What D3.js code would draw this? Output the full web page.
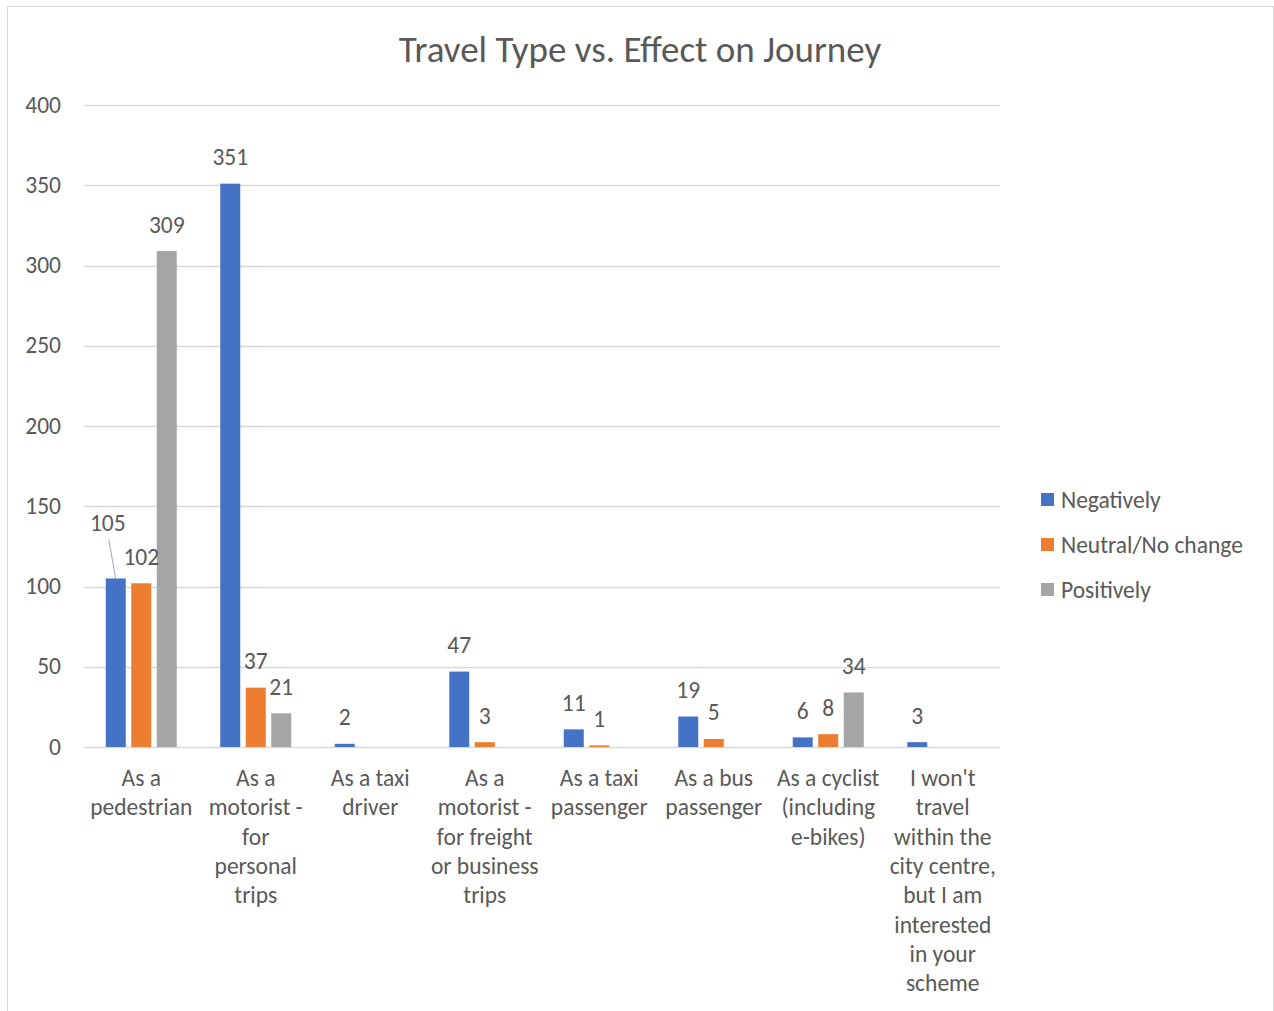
<!DOCTYPE html>
<html>
<head>
<meta charset="utf-8">
<script src="https://cdn.jsdelivr.net/npm/d3@7"></script>
<style>
  body { margin: 0; background: #fff; }
  svg text { font-family: Calibri, Carlito, "Open Sans", sans-serif; fill: #595959; }
</style>
</head>
<body>
<div id="chart"></div>
<script>
// Travel type vs effect on journey - clustered column chart

var categories = [
  ["As a", "pedestrian"],
  ["As a", "motorist -", "for", "personal", "trips"],
  ["As a taxi", "driver"],
  ["As a", "motorist -", "for freight", "or business", "trips"],
  ["As a taxi", "passenger"],
  ["As a bus", "passenger"],
  ["As a cyclist", "(including", "e-bikes)"],
  ["I won't", "travel", "within the", "city centre,", "but I am", "interested", "in your", "scheme"]
];
var seriesNames = ["Negatively", "Neutral/No change", "Positively"];
var negatively = [105, 351, 2, 47, 11, 19, 6, 3];
var neutral = [102, 37, 0, 3, 1, 5, 8, 0];
var positively = [309, 21, 0, 0, 0, 0, 34, 0];
var yTicks = [0, 50, 100, 150, 200, 250, 300, 350, 400];
var colors = ["#4472C4", "#ED7D31", "#A5A5A5"];

var width = 1274, height = 1011;
var plot = {left: 84, right: 1000, top: 105, bottom: 747};
var fs = 23.5;

var svg = d3.select("#chart").append("svg")
  .attr("width", width)
  .attr("height", height);

// chart area border
svg.append("rect")
  .attr("x", 7.5).attr("y", 6.5)
  .attr("width", 1266).attr("height", 1020)
  .attr("fill", "#fff")
  .attr("stroke", "#d9d9d9");

svg.append("text")
  .attr("x", 640).attr("y", 62)
  .attr("text-anchor", "middle")
  .attr("font-size", 37)
  .text("Travel Type vs. Effect on Journey");

var y = d3.scaleLinear().domain([0, 400]).range([plot.bottom, plot.top]);
var x0 = d3.scaleBand().domain(d3.range(categories.length)).range([plot.left, plot.right]);
var x1 = d3.scaleBand().domain(d3.range(seriesNames.length))
  .range([0, x0.bandwidth()])
  .paddingInner(0.216).paddingOuter(0.853);

// gridlines
svg.append("g").selectAll("line")
  .data(yTicks)
  .enter().append("line")
    .attr("x1", plot.left).attr("x2", plot.right)
    .attr("y1", function(d) { return Math.round(y(d)) + 0.5; })
    .attr("y2", function(d) { return Math.round(y(d)) + 0.5; })
    .attr("stroke", "#d9d9d9")
    .attr("stroke-width", 1.3);

svg.append("g").selectAll("text")
  .data(yTicks)
  .enter().append("text")
    .attr("x", 61)
    .attr("y", function(d) { return y(d) + 7.5; })
    .attr("text-anchor", "end")
    .attr("font-size", fs)
    .text(function(d) { return d; });

var rows = [];
categories.forEach(function(c, i) {
  [negatively, neutral, positively].forEach(function(arr, s) {
    rows.push({cat: i, s: s, v: arr[i]});
  });
});

svg.append("g").selectAll("rect")
  .data(rows.filter(function(d) { return d.v > 0; }))
  .enter().append("rect")
    .attr("x", function(d) { return x0(d.cat) + x1(d.s); })
    .attr("y", function(d) { return y(d.v); })
    .attr("width", x1.bandwidth())
    .attr("height", function(d) { return y(0) - y(d.v); })
    .attr("fill", function(d) { return colors[d.s]; });

// data labels
var lab = svg.append("g");
var labels = lab.selectAll("text")
  .data(rows.filter(function(d) { return d.v > 0; }))
  .enter().append("text")
    .attr("font-size", fs)
    .attr("text-anchor", "middle")
    .attr("x", function(d) { return x0(d.cat) + x1(d.s) + x1.bandwidth() / 2; })
    .attr("y", function(d) { return y(d.v) - 18.5; })
    .text(function(d) { return d.v; });

// move a label up when it collides with its neighbour
labels.each(function(d) {
  var me = this;
  var w = me.getComputedTextLength();
  labels.each(function(o) {
    if (o.cat === d.cat && o.s === d.s + 1) {
      var w2 = this.getComputedTextLength();
      var dx = x1.step();
      var dy = Math.abs(y(d.v) - y(o.v));
      if (dx < (w + w2) / 2 && dy < 20) {
        var cx = x0(d.cat) + x1(d.s) + x1.bandwidth() / 2;
        d3.select(me).attr("x", cx - 8).attr("y", y(d.v) - 47);
        lab.append("line")
          .attr("x1", cx - 7).attr("y1", y(d.v) - 39)
          .attr("x2", cx).attr("y2", y(d.v))
          .attr("stroke", "#a6a6a6");
      }
    }
  });
});

// category labels
var cat = svg.append("g").selectAll("text")
  .data(categories)
  .enter().append("text")
    .attr("text-anchor", "middle")
    .attr("font-size", fs)
    .attr("x", function(d, i) { return x0(i) + x0.bandwidth() / 2; })
    .attr("y", 786);
cat.selectAll("tspan")
  .data(function(d) { return d; })
  .enter().append("tspan")
    .attr("x", function() { return d3.select(this.parentNode).attr("x"); })
    .attr("dy", function(d, i) { return i === 0 ? 0 : 29.3; })
    .text(function(d) { return d; });

// legend
var leg = svg.append("g").selectAll("g")
  .data(seriesNames)
  .enter().append("g")
    .attr("transform", function(d, i) { return "translate(1041," + (493 + i * 45) + ")"; });
leg.append("rect")
  .attr("width", 13).attr("height", 13)
  .attr("fill", function(d, i) { return colors[i]; });
leg.append("text")
  .attr("x", 20).attr("y", 15)
  .attr("font-size", fs)
  .text(function(d) { return d; });
</script>
</body>
</html>
